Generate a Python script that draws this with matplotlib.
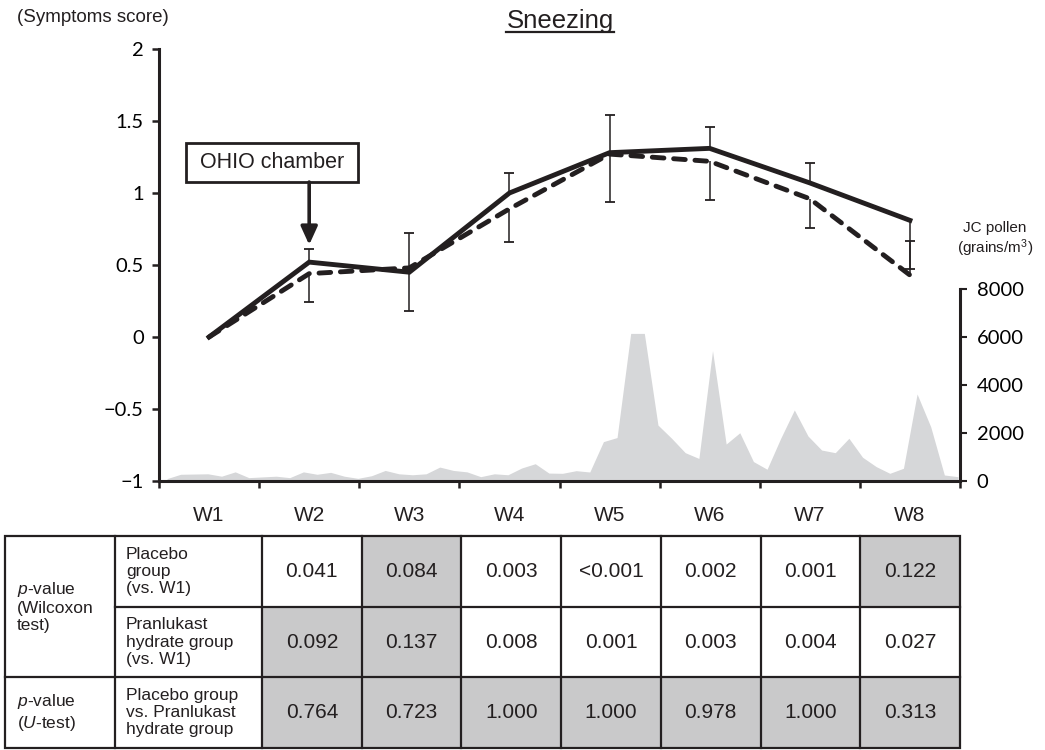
import numpy as np
import matplotlib
matplotlib.use('Agg')
import matplotlib.pyplot as plt
from matplotlib.patches import Rectangle
from matplotlib.lines import Line2D

weeks = ['W1', 'W2', 'W3', 'W4', 'W5', 'W6', 'W7', 'W8']
# symptom score, solid and dashed line
solid = np.array([0.0, 0.52, 0.45, 1.00, 1.28, 1.31, 1.07, 0.81])
dashed = np.array([0.0, 0.44, 0.48, 0.89, 1.27, 1.22, 0.96, 0.43])
solid_err_up = np.array([0, 0.09, 0.27, 0.14, 0.26, 0.15, 0.14, 0])
solid_err_dn = np.array([0, 0, 0, 0, 0, 0, 0, 0.34])
dashed_err_up = np.array([0, 0, 0, 0, 0, 0, 0, 0.24])
dashed_err_dn = np.array([0, 0.20, 0.30, 0.23, 0.33, 0.27, 0.205, 0])

# daily JC pollen (grains/m3)
pollen = np.array([100, 280, 290, 300, 200, 380, 140, 170, 200, 140,
                   380, 280, 360, 200, 110, 220, 440, 300, 260, 300,
                   580, 440, 380, 180, 300, 260, 540, 720, 330, 320,
                   430, 375, 1640, 1810, 6150, 6150, 2330, 1780, 1180, 940,
                   5430, 1540, 2010, 810, 490, 1780, 2960, 1875, 1290, 1180,
                   1780, 990, 600, 320, 530, 3625, 2260, 250, 180])

row_groups = ['$p$-value\n(Wilcoxon\ntest)', '$p$-value\n($U$-test)']
row_labels = ['Placebo\ngroup\n(vs. W1)',
              'Pranlukast\nhydrate group\n(vs. W1)',
              'Placebo group\nvs. Pranlukast\nhydrate group']
p_placebo = ['0.041', '0.084', '0.003', '<0.001', '0.002', '0.001', '0.122']
p_pranlukast = ['0.092', '0.137', '0.008', '0.001', '0.003', '0.004', '0.027']
p_utest = ['0.764', '0.723', '1.000', '1.000', '0.978', '1.000', '0.313']

plt.rcParams['font.family'] = ['Liberation Sans', 'DejaVu Sans']
plt.rcParams['mathtext.fontset'] = 'custom'
plt.rcParams['mathtext.rm'] = 'Liberation Sans'
plt.rcParams['mathtext.it'] = 'Liberation Sans:italic'

ink = '#231f20'
num_font = ['Lato', 'DejaVu Sans']
W, H = 1045, 750

fig = plt.figure(figsize=(W / 100, H / 100), dpi=100)
ax = fig.add_axes([159 / W, 1 - 481 / H, 801 / W, 432 / H])
ax2 = ax.twinx()
ax.set_zorder(ax2.get_zorder() + 1)
ax.patch.set_visible(False)

x = np.arange(len(weeks))

# pollen area on the right axis
days_x = np.linspace(-0.42, 7.48, len(pollen))
ax2.fill_between(days_x, pollen, 0, color='#d6d7d9', lw=0)
ax2.set_ylim(0, 18000)
ax2.set_yticks(range(0, 8001, 2000))
ax2.set_yticklabels([str(v) for v in range(0, 8001, 2000)], fontsize=14.5, family=num_font)
for s in ['top', 'left', 'bottom']:
    ax2.spines[s].set_visible(False)
ax2.spines['right'].set_bounds(0, 8000)
ax2.spines['right'].set_linewidth(2.2)
ax2.spines['right'].set_color(ink)
ax2.tick_params(axis='y', length=5, width=1.5, color=ink, pad=7)

# symptom lines
ax.plot(x, solid, color=ink, lw=3.5, solid_joinstyle='miter', zorder=3)
ax.plot(x, dashed, color=ink, lw=3.5, dashes=(2.4, 2.0), dash_capstyle='round',
        dash_joinstyle='round', zorder=3)

for y, up, dn in [(solid, solid_err_up, solid_err_dn), (dashed, dashed_err_up, dashed_err_dn)]:
    m = up > 0
    ax.vlines(x[m], y[m], y[m] + up[m], color=ink, lw=1.1, zorder=4)
    ax.plot(x[m], y[m] + up[m], '_', color=ink, ms=7, mew=1.3, zorder=4)
    m = dn > 0
    ax.vlines(x[m], y[m] - dn[m], y[m], color=ink, lw=1.1, zorder=4)
    ax.plot(x[m], y[m] - dn[m], '_', color=ink, ms=7, mew=1.3, zorder=4)

ax.set_xlim(-0.5, 7.5)
ax.set_ylim(-1, 2)
yt = [-1, -0.5, 0, 0.5, 1, 1.5, 2]
ax.set_yticks(yt)
ax.set_yticklabels([f'{v:g}'.replace('-', '\u2212') for v in yt], fontsize=14.5, family=num_font)
ax.set_xticks(x)
ax.set_xticklabels(weeks, fontsize=15)
ax.set_xticks(np.arange(-0.5, 8, 1), minor=True)
ax.tick_params(axis='x', which='major', length=0, pad=18, colors=ink)
ax.tick_params(axis='x', which='minor', length=5, width=1.8, color=ink)
ax.tick_params(axis='y', length=5, width=1.8, color=ink, pad=6)
for s in ['top', 'right']:
    ax.spines[s].set_visible(False)
for s in ['left', 'bottom']:
    ax.spines[s].set_linewidth(2.2)
    ax.spines[s].set_color(ink)

# OHIO chamber box and arrow
ax.add_patch(Rectangle((-0.23, 1.076), 1.718, 0.271, fc='white', ec=ink, lw=2, zorder=5,
                       clip_on=False))
ax.text(0.629, 1.21, 'OHIO chamber', ha='center', va='center', fontsize=15.5, color=ink, zorder=6)
ax.annotate('', xy=(1, 0.64), xytext=(1, 1.076),
            arrowprops=dict(arrowstyle='-|>,head_width=0.25,head_length=0.55', lw=2.6,
                            color=ink, shrinkA=0, shrinkB=0, mutation_scale=20), zorder=5)

# texts around the plot
fig.text(17 / W, 1 - 17 / H, '(Symptoms score)', fontsize=13.5, va='center', color=ink)
title = fig.text(560 / W, 1 - 28 / H, 'Sneezing', fontsize=18.5, ha='center', va='baseline',
                 color=ink)
fig.text(995 / W, 1 - 240 / H, 'JC pollen\n(grains/m$^3$)', fontsize=11, ha='center',
         va='center', color=ink)

fig.canvas.draw()
bb = title.get_window_extent()
fig.add_artist(Line2D([bb.x0 / W, bb.x1 / W], [1 - 32 / H, 1 - 32 / H], color=ink, lw=1.6))

# p-value table in pixel coordinates
tax = fig.add_axes([0, 0, 1, 1])
tax.set_xlim(0, W)
tax.set_ylim(H, 0)
tax.set_axis_off()
tax.patch.set_visible(False)

left, c1, c2, right = 5, 115, 262, 960
col_edges = np.linspace(c2, right, len(weeks))
row_edges = [536, 607, 677, 748]
rows = [p_placebo, p_pranlukast, p_utest]

for r, vals in enumerate(rows):
    y0, y1 = row_edges[r], row_edges[r + 1]
    for c, s in enumerate(vals):
        xa, xb = col_edges[c], col_edges[c + 1]
        if float(s.lstrip('<')) >= 0.05:
            tax.add_patch(Rectangle((xa, y0), xb - xa, y1 - y0, fc='#c9c9ca', lw=0))
        tax.text((xa + xb) / 2, (y0 + y1) / 2, s, ha='center', va='center', fontsize=15,
                 color=ink)
    tax.text(126, (y0 + y1) / 2, row_labels[r], ha='left', va='center', fontsize=12.5,
             color=ink, linespacing=1.2)

tax.text(17, (row_edges[0] + row_edges[2]) / 2, row_groups[0], ha='left', va='center',
         fontsize=12.5, color=ink, linespacing=1.2)
tax.text(17, (row_edges[2] + row_edges[3]) / 2, row_groups[1], ha='left', va='center',
         fontsize=12.5, color=ink, linespacing=1.2)

lw_t = 1.6
tax.add_patch(Rectangle((left, row_edges[0]), right - left, row_edges[-1] - row_edges[0],
                        fill=False, ec=ink, lw=lw_t))
for xv in [c1] + list(col_edges[:-1]):
    tax.plot([xv, xv], [row_edges[0], row_edges[-1]], color=ink, lw=lw_t)
tax.plot([c1, right], [row_edges[1], row_edges[1]], color=ink, lw=lw_t)
tax.plot([left, right], [row_edges[2], row_edges[2]], color=ink, lw=lw_t)

fig.savefig('out.png', dpi=100)
